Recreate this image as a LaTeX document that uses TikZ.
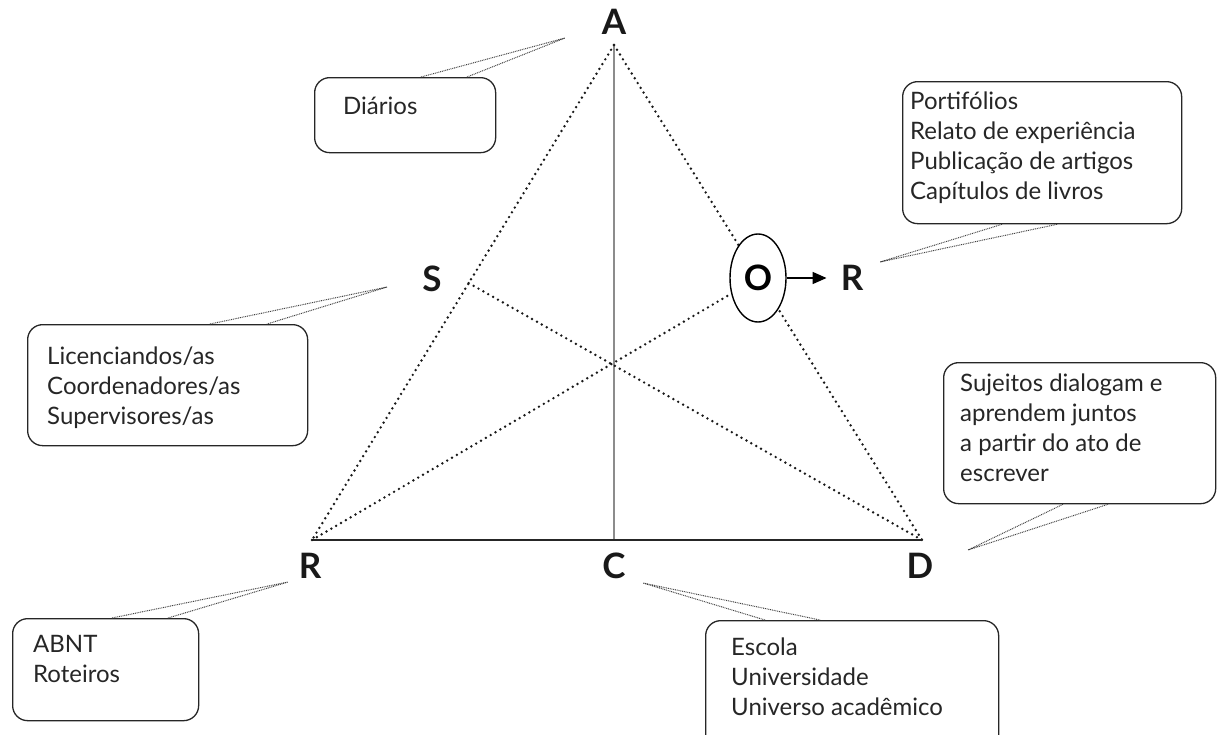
\documentclass[tikz,border=0pt]{standalone}
\usepackage{fontspec}
\setmainfont{Lato}
\usetikzlibrary{shapes.geometric,arrows.meta,calc}
\begin{document}
\begin{tikzpicture}[x=1pt,y=-1pt,
  tri/.style={line width=2.7pt, dash pattern=on 0pt off 5.6pt, line cap=round, color=black!90},
  callout/.style={line width=1pt, dash pattern=on 0.9pt off 0.9pt, color=black!75},
  box/.style={draw, rounded corners=15pt, line width=1.3pt, color=black!85, anchor=north west, inner sep=0pt},
  boxtext/.style={anchor=north west, inner sep=0pt, align=left, font=\fontsize{24}{30}\selectfont, text=black!85},
  vlab/.style={font=\fontsize{35}{35}\selectfont\bfseries, inner sep=0pt, text=black!90}
]
\useasboundingbox (0,0) rectangle (1217,734);
\clip (0,0) rectangle (1217,734);

% triangle corners
\coordinate (Ac) at (614,45);
\coordinate (Rc) at (312,540);
\coordinate (Dc) at (922,540);
\coordinate (Cc) at (614,540);
\coordinate (Sp) at ($(Ac)!0.481!(Rc)$);

% boxes
\node[box, minimum width=181pt, minimum height=75pt] (bdiar) at (314,77) {};
\node[box, minimum width=279pt, minimum height=142pt] (bport) at (902,81) {};
\node[box, minimum width=280pt, minimum height=121pt] (blic) at (27,324) {};
\node[box, minimum width=272pt, minimum height=141pt] (bsuj) at (943,362) {};
\node[box, minimum width=186pt, minimum height=102pt] (babnt) at (12,618) {};
\node[box, minimum width=293pt, minimum height=130pt] (besc) at (705,620) {};

% box texts
\node[boxtext] (tdiar) at (343,93) {\strut Diários};
\node[boxtext] (tport) at (910,88) {\strut Portifólios\\Relato de experiência\\Publicação de artigos\\Capítulos de livros};
\node[boxtext] (tlic) at (47,343) {\strut Licenciandos/as\\Coordenadores/as\\Supervisores/as};
\node[boxtext] (tsuj) at (960,370) {\strut Sujeitos dialogam e\\aprendem juntos\\a partir do ato de\\escrever};
\node[boxtext] (tabnt) at (33,631) {\strut ABNT\\Roteiros};
\node[boxtext] (tesc) at (731,634) {\strut Escola\\Universidade\\Universo acadêmico};

% callout tips and box points
\coordinate (tA) at (565,38);
\coordinate (tO) at (880,262);
\coordinate (tS) at (387,287);
\coordinate (tD) at (968,550);
\coordinate (tR) at (288,582);
\coordinate (tC) at (643,583);
\coordinate (d1) at ($(bdiar.north west)+(107,0)$);
\coordinate (d2) at ($(bdiar.north west)+(153,0)$);
\coordinate (p1) at ($(bport.south west)+(100,0)$);
\coordinate (p2) at ($(bport.south west)+(155,0)$);
\coordinate (l1) at ($(blic.north west)+(183,0)$);
\coordinate (l2) at ($(blic.north west)+(240,0)$);
\coordinate (s1) at ($(bsuj.south west)+(120,0)$);
\coordinate (s2) at ($(bsuj.south west)+(165,0)$);
\coordinate (a1) at ($(babnt.north west)+(100,0)$);
\coordinate (a2) at ($(babnt.north west)+(156,0)$);
\coordinate (e1) at ($(besc.north west)+(60,0)$);
\coordinate (e2) at ($(besc.north west)+(115,0)$);

\draw[callout] (d1) -- (tA) -- (d2);
\draw[callout] (p1) -- (tO) -- (p2);
\draw[callout] (l1) -- (tS) -- (l2);
\draw[callout] (s1) -- (tD) -- (s2);
\draw[callout] (a1) -- (tR) -- (a2);
\draw[callout] (e1) -- (tC) -- (e2);

% triangle
\draw[line width=2.4pt, color=black!45] (Ac) -- (Cc);
\draw[tri] (Ac) -- (Rc);
\draw[tri] (Ac) -- (Dc);
\draw[tri] (Sp) -- (Dc);
\draw[line width=1.6pt, color=black!85] (Rc) -- (Dc);

\node[draw, ellipse, line width=1.4pt, fill=white, minimum width=56pt, minimum height=88pt, inner sep=0pt,
      font=\fontsize{35}{35}\selectfont\bfseries] (O) at (758,278) {O};
\draw[tri] (Rc) -- (O);

% labels
\node[vlab] (lA) at (614,22) {A};
\node[vlab] (lS) at (432,279) {S};
\node[vlab] (lR) at (852,278) {R};
\node[vlab] (lRb) at (310,566) {R};
\node[vlab] (lC) at (614,566) {C};
\node[vlab] (lD) at (920,566) {D};

\draw[line width=1.6pt, -{Triangle[length=14pt,width=12pt]}, shorten >=14pt] (O.east) -- (lR.west);
\end{tikzpicture}
\end{document}
